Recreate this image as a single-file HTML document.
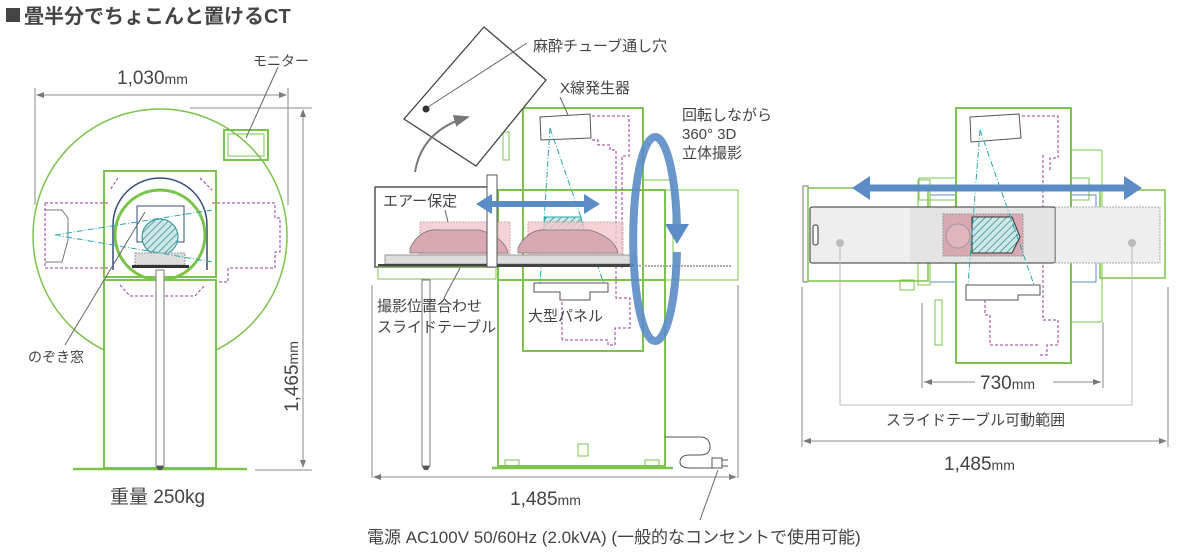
<!DOCTYPE html>
<html><head><meta charset="utf-8"><style>
html,body{margin:0;padding:0;background:#fff;}
svg{display:block;}
text{font-family:"Liberation Sans","Noto Sans CJK JP",sans-serif;fill:#444;}
</style></head><body>
<svg width="1200" height="555" viewBox="0 0 1200 555" xmlns="http://www.w3.org/2000/svg">
<defs>
<pattern id="h" width="5" height="5" patternUnits="userSpaceOnUse" patternTransform="rotate(45)"><rect width="5" height="5" fill="#cfe7e7"/><line x1="0" y1="0" x2="0" y2="5" stroke="#2a8f8f" stroke-width="1.5"/></pattern>
<marker id="ag" markerWidth="8" markerHeight="8" refX="7" refY="4" orient="auto"><path d="M0,1 L8,4 L0,7z" fill="#777"/></marker>
</defs>
<rect x="6" y="8" width="14" height="14" fill="#444"/>
<text x="24" y="23" font-size="20" font-weight="bold" fill="#444">畳半分でちょこんと置けるCT</text>

<!-- ===== LEFT VIEW ===== -->
<g fill="none">
<circle cx="160" cy="236" r="127" stroke="#7cc34c" stroke-width="1.5"/>
<rect x="104" y="280" width="112" height="188" fill="#fff" stroke="#7cc34c" stroke-width="2"/>
<rect x="104" y="171" width="112" height="106" fill="#fff" stroke="#7cc34c" stroke-width="2"/>
<path d="M45,203 H108 M212,203 H275 V218 H280 V252 H275 V268 H228 V282 H218 M45,203 V268 H108" stroke="#9b3a9b" stroke-dasharray="3,2"/>
<path d="M118,178 L110,190 M200,178 L212,190 M120,285 L130,296 H195 L205,285" stroke="#9b3a9b" stroke-dasharray="3,2"/>
<path d="M45,210 H62 L68,218 V240 L62,262 H45" stroke="#777"/>
<path d="M113,270 V225 A47,47 0 0 1 207,225 V270" stroke="#334c7e" stroke-width="1.5"/>
<circle cx="160" cy="235" r="45" stroke="#7cc34c" stroke-width="3"/>
<rect x="137" y="206" width="47" height="36" stroke="#334c7e"/>
<circle cx="160" cy="237" r="18" fill="url(#h)" stroke="#2a8f8f"/>
<rect x="135" y="253" width="50" height="12" fill="#ddd" stroke="#999" stroke-dasharray="2,1"/>
<rect x="132" y="265" width="57" height="3" fill="#333"/>
<path d="M55,235 L212,210 M55,235 L212,262" stroke="#2aa7b5" stroke-dasharray="6,2,1,2"/>
<rect x="224" y="130" width="44" height="30" stroke="#7cc34c" stroke-width="2"/>
<rect x="228" y="134" width="36" height="22" stroke="#7cc34c"/>
<rect x="156" y="270" width="8" height="196" fill="#fff" stroke="#777"/>
<line x1="73" y1="469" x2="247" y2="469" stroke="#7cc34c" stroke-width="2.5"/>
<path d="M156,466 h8 l-2,4 h-4z" fill="#555"/>
<line x1="35" y1="88" x2="35" y2="205" stroke="#888"/>
<line x1="288" y1="88" x2="288" y2="205" stroke="#888"/>
<line x1="37" y1="95" x2="286" y2="95" stroke="#888" marker-end="url(#ag)"/>
<line x1="286" y1="95" x2="37" y2="95" stroke="#888" marker-end="url(#ag)"/>
<line x1="190" y1="108" x2="312" y2="108" stroke="#888"/>
<line x1="255" y1="470" x2="312" y2="470" stroke="#888"/>
<line x1="303" y1="110" x2="303" y2="467" stroke="#888" marker-end="url(#ag)"/>
<line x1="303" y1="467" x2="303" y2="110" stroke="#888" marker-end="url(#ag)"/>
<line x1="278" y1="67" x2="246" y2="138" stroke="#666"/>
<line x1="65" y1="345" x2="145" y2="212" stroke="#666"/>
</g>
<text x="117" y="84" font-size="19">1,030<tspan font-size="14">mm</tspan></text>
<text x="253" y="66" font-size="14">モニター</text>
<text x="28" y="362" font-size="14">のぞき窓</text>
<text x="0" y="0" font-size="19" transform="translate(298,412) rotate(-90)">1,465<tspan font-size="14">mm</tspan></text>
<text x="110" y="503" font-size="19">重量 250kg</text>

<!-- ===== MIDDLE VIEW ===== -->
<g fill="none">
<rect x="498" y="190" width="167" height="276" fill="#fff" stroke="#7cc34c" stroke-width="2"/>
<line x1="492" y1="468" x2="673" y2="468" stroke="#7cc34c" stroke-width="2.5"/>
<rect x="505" y="460" width="14" height="8" stroke="#7cc34c"/><rect x="645" y="460" width="14" height="8" stroke="#7cc34c"/>
<rect x="578" y="444" width="10" height="12" stroke="#7cc34c"/>
<rect x="523" y="108" width="120" height="243" fill="#fff" stroke="#7cc34c" stroke-width="2"/>
<rect x="643" y="180" width="30" height="100" stroke="#7cc34c"/>
<rect x="665" y="190" width="73" height="90" stroke="#7cc34c"/>
<rect x="498" y="190" width="167" height="90" stroke="#7cc34c" stroke-width="2"/>
<rect x="503" y="132" width="6" height="28" stroke="#7cc34c"/>
<path d="M540,117 L590,114 L591,138 L541,140z" stroke="#555"/>
<path d="M592,116 H629 V156 H622 V268 M592,140 H598 L598,145 H610 V150 H616 V298 H630 V328 H615 V345 H608 V340 H562" stroke="#9b3a9b" stroke-dasharray="3,2"/>
<path d="M562,340 V295" stroke="#9b3a9b" stroke-dasharray="3,2"/>
<path d="M534,283 H608 V292 H590 V300 H560 V292 H534z" fill="#fff" stroke="#555"/>
<path d="M550,128 L540,284 M550,128 L604,284" stroke="#2aa7b5" stroke-dasharray="6,2,1,2"/>
<path d="M545,217 H581 L585,237 H543z" fill="url(#h)" stroke="#2aa7b5"/>
<rect x="375" y="187" width="119" height="80" fill="none" stroke="#555" stroke-width="1.5"/>
<rect x="420" y="222" width="90" height="33" fill="#f2c7cf" opacity="0.8" stroke="#b99" stroke-dasharray="2,1"/>
<rect x="528" y="222" width="95" height="33" fill="#f2c7cf" opacity="0.8" stroke="#b99" stroke-dasharray="2,1"/>
<path d="M410,248 Q420,228 440,230 H480 Q505,238 508,253 H410z" fill="#d9a9b3" stroke="#777" stroke-width="0.8"/>
<path d="M518,248 Q528,228 548,230 H590 Q615,238 618,253 H518z" fill="#d9a9b3" stroke="#777" stroke-width="0.8"/>
<rect x="385" y="255" width="250" height="9" fill="#ddd" stroke="#999"/>
<rect x="378" y="264" width="256" height="3" fill="#444"/>
<line x1="636" y1="266" x2="732" y2="266" stroke="#aaa" stroke-width="2" stroke-dasharray="2,1"/>
<rect x="378" y="267" width="118" height="12" stroke="#7cc34c"/>
<rect x="487" y="175" width="10" height="92" fill="#fff" stroke="#555"/>
<rect x="422" y="280" width="8" height="186" fill="#fff" stroke="#777"/>
<path d="M422,466 h8 l-2,4 h-4z" fill="#555"/>
<polygon points="484,27 546,80 476,166 404,119" fill="#fff" stroke="#444" stroke-width="1.3"/>
<circle cx="426" cy="109" r="3.5" fill="#333"/>
<line x1="428" y1="107" x2="527" y2="43" stroke="#666"/>
<path d="M415,172 Q422,130 468,117" stroke="#777" stroke-width="2" marker-end="url(#ag)"/>
<line x1="488" y1="204" x2="590" y2="204" stroke="#5b8cc6" stroke-width="6"/>
<path d="M476,204 L492,194 V214z M600,204 L584,194 V214z" fill="#5b8cc6"/>
<!-- rotation ellipse -->
<path d="M677,226 A22,102 0 1 0 677,252" stroke="#5b8cc6" stroke-width="8" opacity="0.9"/>
<path d="M665,224 H689 L677,244z" fill="#5b8cc6"/>
<line x1="560" y1="97" x2="568" y2="115" stroke="#666"/>
<line x1="445" y1="210" x2="448" y2="222" stroke="#666"/>
<line x1="444" y1="298" x2="460" y2="268" stroke="#666"/>
<line x1="372" y1="285" x2="372" y2="478" stroke="#888"/>
<line x1="738" y1="285" x2="738" y2="478" stroke="#888"/>
<line x1="374" y1="477" x2="736" y2="477" stroke="#888" marker-end="url(#ag)"/>
<line x1="736" y1="477" x2="374" y2="477" stroke="#888" marker-end="url(#ag)"/>
<path d="M665,437 H700 Q710,437 710,447 Q710,455 700,455 H690 Q680,455 680,462 Q680,468 690,468 H712" stroke="#555"/>
<rect x="712" y="458" width="10" height="10" fill="#fff" stroke="#555"/>
<path d="M722,460 h6 M722,466 h6" stroke="#555"/>
<line x1="718" y1="470" x2="700" y2="520" stroke="#666"/>
</g>
<text x="533" y="51" font-size="15">麻酔チューブ通し穴</text>
<text x="560" y="93" font-size="15">X線発生器</text>
<text x="682" y="120" font-size="15">回転しながら</text>
<text x="682" y="139" font-size="15">360° 3D</text>
<text x="682" y="158" font-size="15">立体撮影</text>
<text x="383" y="206" font-size="15">エアー保定</text>
<text x="377" y="311" font-size="15">撮影位置合わせ</text>
<text x="377" y="332" font-size="15">スライドテーブル</text>
<text x="528" y="321" font-size="15">大型パネル</text>
<text x="510" y="505" font-size="19">1,485<tspan font-size="14">mm</tspan></text>
<text x="367" y="543" font-size="17">電源 AC100V 50/60Hz (2.0kVA) (一般的なコンセントで使用可能)</text>

<!-- ===== RIGHT VIEW ===== -->
<g fill="none">
<rect x="919" y="178" width="170" height="22" stroke="#7cc34c"/>
<rect x="1065" y="150" width="37" height="172" stroke="#7cc34c" rx="2"/>
<path d="M930,195 H1096 V282 H930z" stroke="#5b8cc6" stroke-width="1"/>
<rect x="956" y="108" width="115" height="255" fill="#fff" stroke="#7cc34c" stroke-width="2"/>
<rect x="803" y="186" width="5" height="96" stroke="#777"/>
<rect x="808" y="188" width="120" height="93" stroke="#7cc34c" stroke-width="1.5"/>
<rect x="918" y="180" width="12" height="105" stroke="#7cc34c"/>
<rect x="1100" y="190" width="65" height="88" stroke="#7cc34c" stroke-width="1.5"/>
<path d="M970,117 L1019,114 L1021,138 L971,142z" stroke="#555"/>
<path d="M1022,116 H1058 V158 H1050 V170" stroke="#9b3a9b" stroke-dasharray="3,2"/>
<path d="M1043,155 V320 H1058 V345 H1047 V355 H1040 M985,295 V315 H990 V345 H1040" stroke="#9b3a9b" stroke-dasharray="3,2"/>
<rect x="1055" y="207" width="105" height="56" fill="#eee" stroke="#aaa" stroke-dasharray="2,1"/>
<rect x="810" y="207" width="245" height="56" rx="2" fill="#eee" stroke="#333"/>
<rect x="910" y="208" width="145" height="54" fill="#ddd" opacity="0.6"/>
<rect x="943" y="214" width="80" height="42" fill="#d9a9b3" stroke="#999" stroke-dasharray="2,1"/>
<path d="M972,217 H1012 L1020,237 L1012,253 H972z" fill="url(#h)" stroke="#333"/>
<circle cx="958" cy="236" r="12" fill="#e0b5bd" stroke="#999"/>
<rect x="813" y="225" width="5" height="20" rx="2" fill="#fff" stroke="#333"/>
<circle cx="840" cy="243" r="4" fill="#bbb"/><circle cx="1132" cy="243" r="4" fill="#bbb"/>
<path d="M980,130 L968,285 M980,130 L1034,285" stroke="#2aa7b5" stroke-dasharray="6,2,1,2"/>
<path d="M966,285 H1040 V295 H1018 V300 H966z" fill="#fff" stroke="#555"/>
<rect x="935" y="300" width="7" height="45" stroke="#7cc34c"/>
<rect x="900" y="280" width="14" height="10" stroke="#7cc34c"/>
<line x1="864" y1="188" x2="1130" y2="188" stroke="#5b8cc6" stroke-width="7"/>
<path d="M852,188 L870,176 V200z M1142,188 L1124,176 V200z" fill="#5b8cc6"/>
<line x1="840" y1="247" x2="840" y2="405" stroke="#bbb"/>
<line x1="1132" y1="247" x2="1132" y2="405" stroke="#bbb"/>
<line x1="840" y1="405" x2="1132" y2="405" stroke="#bbb"/>
<line x1="922" y1="303" x2="922" y2="388" stroke="#888"/>
<line x1="1103" y1="322" x2="1103" y2="388" stroke="#888"/>
<line x1="924" y1="382" x2="975" y2="382" stroke="#888"/><line x1="1053" y1="382" x2="1101" y2="382" stroke="#888"/>
<path d="M924,382 l8,-3 v6z M1101,382 l-8,-3 v6z" fill="#777"/>
<line x1="802" y1="287" x2="802" y2="447" stroke="#888"/>
<line x1="1168" y1="287" x2="1168" y2="447" stroke="#888"/>
<line x1="804" y1="441" x2="1166" y2="441" stroke="#888" marker-end="url(#ag)"/>
<line x1="1166" y1="441" x2="804" y2="441" stroke="#888" marker-end="url(#ag)"/>
</g>
<text x="980" y="389" font-size="19">730<tspan font-size="14">mm</tspan></text>
<text x="886" y="425" font-size="15">スライドテーブル可動範囲</text>
<text x="944" y="470" font-size="19">1,485<tspan font-size="14">mm</tspan></text>
</svg>
</body></html>
